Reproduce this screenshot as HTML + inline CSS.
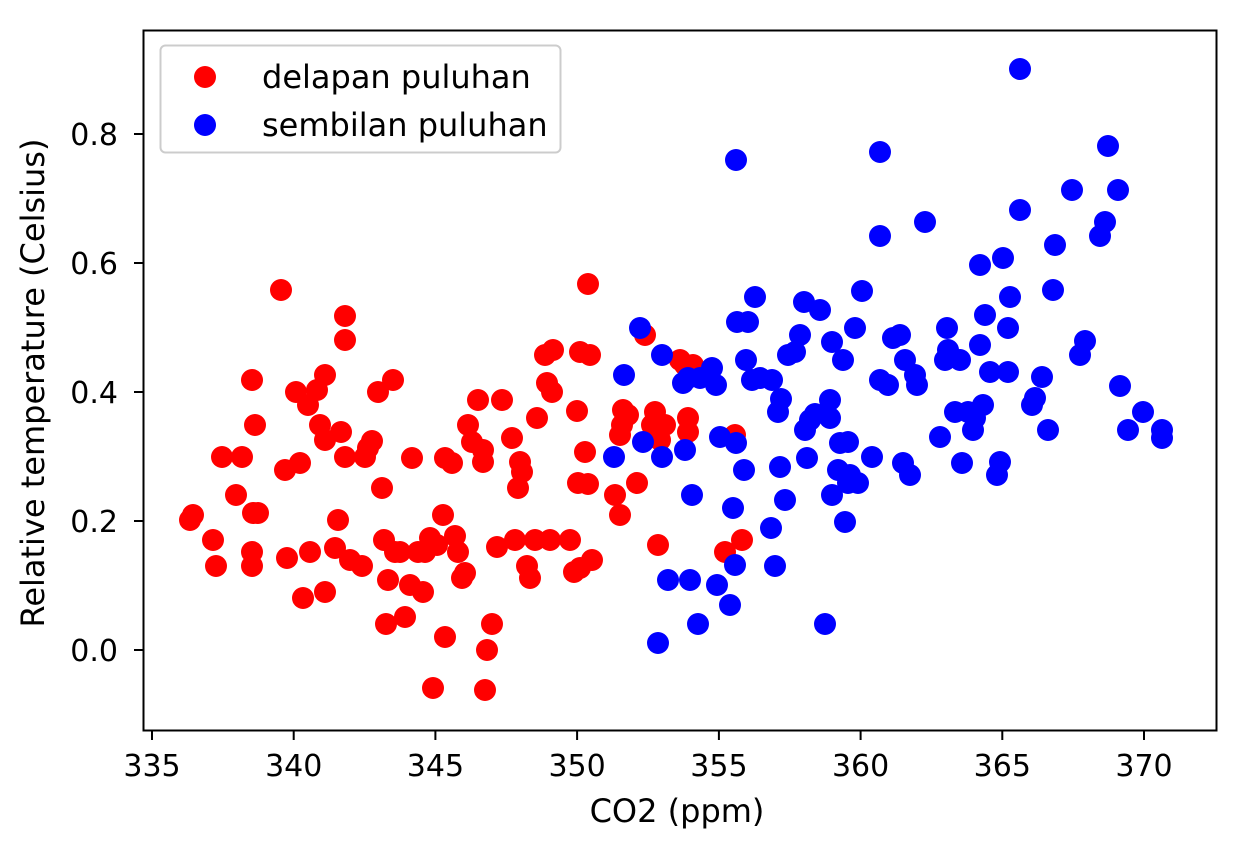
<!DOCTYPE html>
<html><head><meta charset="utf-8"><style>
html,body{margin:0;padding:0;background:#fff;}
svg{display:block;font-family:"DejaVu Sans","Liberation Sans",sans-serif;}
circle{r:11px;}
</style></head><body>
<svg width="1248" height="848" viewBox="0 0 1248 848">
<rect width="1248" height="848" fill="#fff"/>
<g fill="#ff0000" id="red">
<circle cx="190" cy="520" r="11"/><circle cx="193" cy="515" r="11"/><circle cx="213" cy="540" r="11"/><circle cx="216" cy="566" r="11"/><circle cx="222" cy="457" r="11"/><circle cx="242" cy="457" r="11"/><circle cx="236" cy="495" r="11"/><circle cx="252" cy="380" r="11"/><circle cx="253" cy="513" r="11"/><circle cx="258" cy="513" r="11"/><circle cx="255" cy="425" r="11"/><circle cx="252" cy="552" r="11"/><circle cx="252" cy="566" r="11"/><circle cx="281" cy="290" r="11"/><circle cx="285" cy="470" r="11"/><circle cx="287" cy="558" r="11"/><circle cx="296" cy="392" r="11"/><circle cx="300" cy="463" r="11"/><circle cx="303" cy="598" r="11"/><circle cx="310" cy="552" r="11"/><circle cx="308" cy="405" r="11"/><circle cx="317" cy="390" r="11"/><circle cx="325" cy="375" r="11"/><circle cx="320" cy="425" r="11"/><circle cx="325" cy="440" r="11"/><circle cx="325" cy="592" r="11"/><circle cx="335" cy="548" r="11"/><circle cx="341" cy="432" r="11"/><circle cx="345" cy="457" r="11"/><circle cx="345" cy="316" r="11"/><circle cx="345" cy="340" r="11"/><circle cx="338" cy="520" r="11"/><circle cx="350" cy="560" r="11"/><circle cx="362" cy="566" r="11"/><circle cx="365" cy="457" r="11"/><circle cx="368" cy="448" r="11"/><circle cx="372" cy="441" r="11"/><circle cx="378" cy="392" r="11"/><circle cx="382" cy="488" r="11"/><circle cx="384" cy="540" r="11"/><circle cx="386" cy="624" r="11"/><circle cx="393" cy="380" r="11"/><circle cx="388" cy="580" r="11"/><circle cx="395" cy="552" r="11"/><circle cx="400" cy="552" r="11"/><circle cx="405" cy="617" r="11"/><circle cx="410" cy="585" r="11"/><circle cx="412" cy="458" r="11"/><circle cx="418" cy="552" r="11"/><circle cx="423" cy="592" r="11"/><circle cx="425" cy="552" r="11"/><circle cx="430" cy="538" r="11"/><circle cx="433" cy="688" r="11"/><circle cx="437" cy="545" r="11"/><circle cx="445" cy="637" r="11"/><circle cx="443" cy="515" r="11"/><circle cx="445" cy="458" r="11"/><circle cx="452" cy="463" r="11"/><circle cx="455" cy="536" r="11"/><circle cx="458" cy="552" r="11"/><circle cx="462" cy="578" r="11"/><circle cx="468" cy="425" r="11"/><circle cx="465" cy="573" r="11"/><circle cx="472" cy="442" r="11"/><circle cx="478" cy="400" r="11"/><circle cx="483" cy="462" r="11"/><circle cx="483" cy="450" r="11"/><circle cx="485" cy="690" r="11"/><circle cx="487" cy="650" r="11"/><circle cx="492" cy="624" r="11"/><circle cx="497" cy="547" r="11"/><circle cx="502" cy="400" r="11"/><circle cx="512" cy="438" r="11"/><circle cx="515" cy="540" r="11"/><circle cx="518" cy="488" r="11"/><circle cx="520" cy="462" r="11"/><circle cx="522" cy="472" r="11"/><circle cx="527" cy="566" r="11"/><circle cx="530" cy="578" r="11"/><circle cx="535" cy="540" r="11"/><circle cx="537" cy="418" r="11"/><circle cx="545" cy="355" r="11"/><circle cx="547" cy="383" r="11"/><circle cx="550" cy="540" r="11"/><circle cx="552" cy="392" r="11"/><circle cx="553" cy="350" r="11"/><circle cx="570" cy="540" r="11"/><circle cx="574" cy="572" r="11"/><circle cx="578" cy="483" r="11"/><circle cx="580" cy="568" r="11"/><circle cx="577" cy="411" r="11"/><circle cx="585" cy="452" r="11"/><circle cx="580" cy="352" r="11"/><circle cx="588" cy="484" r="11"/><circle cx="588" cy="284" r="11"/><circle cx="590" cy="355" r="11"/><circle cx="592" cy="560" r="11"/><circle cx="615" cy="495" r="11"/><circle cx="620" cy="515" r="11"/><circle cx="622" cy="425" r="11"/><circle cx="623" cy="410" r="11"/><circle cx="628" cy="415" r="11"/><circle cx="620" cy="435" r="11"/><circle cx="637" cy="483" r="11"/><circle cx="645" cy="335" r="11"/><circle cx="652" cy="425" r="11"/><circle cx="655" cy="412" r="11"/><circle cx="658" cy="545" r="11"/><circle cx="660" cy="440" r="11"/><circle cx="665" cy="425" r="11"/><circle cx="680" cy="360" r="11"/><circle cx="685" cy="365" r="11"/><circle cx="688" cy="418" r="11"/><circle cx="693" cy="365" r="11"/><circle cx="688" cy="432" r="11"/><circle cx="725" cy="552" r="11"/><circle cx="735" cy="435" r="11"/><circle cx="742" cy="540" r="11"/>
</g>
<g fill="#0000ff">
<circle cx="614" cy="457" r="11"/><circle cx="624" cy="375" r="11"/><circle cx="640" cy="328" r="11"/><circle cx="643" cy="442" r="11"/><circle cx="658" cy="643" r="11"/><circle cx="662" cy="355" r="11"/><circle cx="662" cy="457" r="11"/><circle cx="668" cy="580" r="11"/><circle cx="685" cy="450" r="11"/><circle cx="683" cy="383" r="11"/><circle cx="688" cy="378" r="11"/><circle cx="690" cy="580" r="11"/><circle cx="692" cy="495" r="11"/><circle cx="698" cy="624" r="11"/><circle cx="700" cy="378" r="11"/><circle cx="712" cy="368" r="11"/><circle cx="716" cy="385" r="11"/><circle cx="717" cy="585" r="11"/><circle cx="720" cy="437" r="11"/><circle cx="730" cy="605" r="11"/><circle cx="733" cy="508" r="11"/><circle cx="735" cy="565" r="11"/><circle cx="736" cy="160" r="11"/><circle cx="736" cy="443" r="11"/><circle cx="737" cy="322" r="11"/><circle cx="748" cy="322" r="11"/><circle cx="746" cy="360" r="11"/><circle cx="752" cy="380" r="11"/><circle cx="755" cy="297" r="11"/><circle cx="744" cy="470" r="11"/><circle cx="760" cy="378" r="11"/><circle cx="772" cy="380" r="11"/><circle cx="771" cy="528" r="11"/><circle cx="775" cy="566" r="11"/><circle cx="778" cy="412" r="11"/><circle cx="780" cy="467" r="11"/><circle cx="781" cy="399" r="11"/><circle cx="785" cy="500" r="11"/><circle cx="788" cy="355" r="11"/><circle cx="795" cy="352" r="11"/><circle cx="800" cy="335" r="11"/><circle cx="805" cy="430" r="11"/><circle cx="804" cy="302" r="11"/><circle cx="807" cy="458" r="11"/><circle cx="810" cy="420" r="11"/><circle cx="815" cy="414" r="11"/><circle cx="820" cy="310" r="11"/><circle cx="825" cy="624" r="11"/><circle cx="830" cy="418" r="11"/><circle cx="830" cy="400" r="11"/><circle cx="832" cy="342" r="11"/><circle cx="832" cy="495" r="11"/><circle cx="838" cy="470" r="11"/><circle cx="840" cy="443" r="11"/><circle cx="843" cy="360" r="11"/><circle cx="845" cy="522" r="11"/><circle cx="848" cy="442" r="11"/><circle cx="848" cy="483" r="11"/><circle cx="850" cy="475" r="11"/><circle cx="855" cy="328" r="11"/><circle cx="858" cy="483" r="11"/><circle cx="862" cy="291" r="11"/><circle cx="872" cy="457" r="11"/><circle cx="880" cy="152" r="11"/><circle cx="880" cy="236" r="11"/><circle cx="880" cy="380" r="11"/><circle cx="888" cy="385" r="11"/><circle cx="893" cy="338" r="11"/><circle cx="900" cy="335" r="11"/><circle cx="903" cy="463" r="11"/><circle cx="905" cy="360" r="11"/><circle cx="910" cy="475" r="11"/><circle cx="915" cy="375" r="11"/><circle cx="917" cy="385" r="11"/><circle cx="925" cy="222" r="11"/><circle cx="940" cy="437" r="11"/><circle cx="945" cy="360" r="11"/><circle cx="947" cy="328" r="11"/><circle cx="948" cy="350" r="11"/><circle cx="955" cy="412" r="11"/><circle cx="960" cy="360" r="11"/><circle cx="962" cy="463" r="11"/><circle cx="968" cy="412" r="11"/><circle cx="973" cy="430" r="11"/><circle cx="975" cy="418" r="11"/><circle cx="980" cy="265" r="11"/><circle cx="980" cy="345" r="11"/><circle cx="983" cy="405" r="11"/><circle cx="985" cy="315" r="11"/><circle cx="990" cy="372" r="11"/><circle cx="997" cy="475" r="11"/><circle cx="1000" cy="462" r="11"/><circle cx="1003" cy="258" r="11"/><circle cx="1008" cy="328" r="11"/><circle cx="1010" cy="297" r="11"/><circle cx="1008" cy="372" r="11"/><circle cx="1020" cy="210" r="11"/><circle cx="1020" cy="69" r="11"/><circle cx="1032" cy="405" r="11"/><circle cx="1035" cy="398" r="11"/><circle cx="1042" cy="377" r="11"/><circle cx="1048" cy="430" r="11"/><circle cx="1055" cy="245" r="11"/><circle cx="1053" cy="290" r="11"/><circle cx="1080" cy="355" r="11"/><circle cx="1085" cy="341" r="11"/><circle cx="1072" cy="190" r="11"/><circle cx="1100" cy="236" r="11"/><circle cx="1105" cy="222" r="11"/><circle cx="1108" cy="146" r="11"/><circle cx="1118" cy="190" r="11"/><circle cx="1120" cy="386" r="11"/><circle cx="1128" cy="430" r="11"/><circle cx="1143" cy="412" r="11"/><circle cx="1162" cy="430" r="11"/><circle cx="1162" cy="438" r="11"/>
</g>
<rect x="143.5" y="30.5" width="1073" height="700" fill="none" stroke="#000" stroke-width="2"/>
<g stroke="#000" stroke-width="2">
<line x1="152" y1="731" x2="152" y2="740"/><line x1="293.7" y1="731" x2="293.7" y2="740"/><line x1="435.4" y1="731" x2="435.4" y2="740"/><line x1="577.1" y1="731" x2="577.1" y2="740"/><line x1="718.9" y1="731" x2="718.9" y2="740"/><line x1="860.6" y1="731" x2="860.6" y2="740"/><line x1="1002.3" y1="731" x2="1002.3" y2="740"/><line x1="1144" y1="731" x2="1144" y2="740"/>
<line x1="134" y1="134" x2="143" y2="134"/><line x1="134" y1="263" x2="143" y2="263"/><line x1="134" y1="392" x2="143" y2="392"/><line x1="134" y1="521" x2="143" y2="521"/><line x1="134" y1="650" x2="143" y2="650"/>
</g>
<g font-size="30" fill="#000" text-anchor="middle">
<text x="152" y="776">335</text><text x="293.7" y="776">340</text><text x="435.4" y="776">345</text><text x="577.1" y="776">350</text><text x="718.9" y="776">355</text><text x="860.6" y="776">360</text><text x="1002.3" y="776">365</text><text x="1144" y="776">370</text>
</g>
<g font-size="30" fill="#000" text-anchor="end">
<text x="118" y="145">0.8</text><text x="118" y="274">0.6</text><text x="118" y="403">0.4</text><text x="118" y="532">0.2</text><text x="118" y="661">0.0</text>
</g>
<text x="677" y="822" font-size="32" text-anchor="middle">CO2 (ppm)</text>
<text transform="translate(44,383) rotate(-90)" font-size="32" text-anchor="middle">Relative temperature (Celsius)</text>
<rect x="160.5" y="45.5" width="400" height="107" rx="5" fill="#fff" fill-opacity="0.8" stroke="#ccc" stroke-width="2"/>
<circle cx="205" cy="77" r="11" fill="#ff0000"/>
<circle cx="205" cy="125" r="11" fill="#0000ff"/>
<text x="262" y="88" font-size="32">delapan puluhan</text>
<text x="262" y="136" font-size="32">sembilan puluhan</text>
</svg>
</body></html>
